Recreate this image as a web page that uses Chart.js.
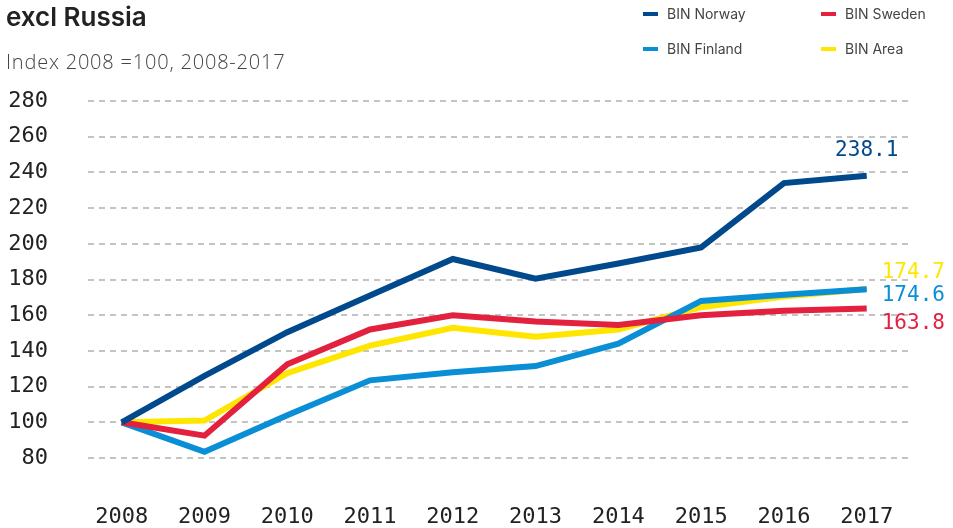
<!DOCTYPE html>
<html>
<head>
<meta charset="utf-8">
<script src="https://cdn.jsdelivr.net/npm/chart.js@4.4.0/dist/chart.umd.min.js"></script>
<style>
  html, body { margin: 0; padding: 0; background: #fff; }
  #wrap { position: relative; width: 953px; height: 528px; overflow: hidden; }
  #chart { position: absolute; left: 0; top: 0; }
  .title { position: absolute; left: 6px; top: 1px; font: 600 26px Inter, sans-serif; color: #222; }
  .sub { position: absolute; left: 6px; top: 48px; font: 300 20px "Open Sans", sans-serif; letter-spacing: 0.8px; color: #444; }
  .legend { position: absolute; font: 14px Inter, sans-serif; color: #444; white-space: nowrap; }
  .legend i { display: inline-block; width: 15px; height: 4px; vertical-align: middle; margin-right: 9px; position: relative; top: -1px; }
</style>
</head>
<body>
<div id="wrap">
  <canvas id="chart" width="953" height="528"></canvas>
  <div class="title">excl Russia</div>
  <div class="sub">Index 2008 =100, 2008-2017</div>
  <div id="legend"></div>
</div>
<script>
// Données
var years = [2008, 2009, 2010, 2011, 2012, 2013, 2014, 2015, 2016, 2017];
var norway = [100, 126, 150.5, 171, 191.5, 180.5, 189, 198, 234, 238.1];
var sweden = [100, 92.5, 132.5, 152, 160, 156.5, 154.5, 160, 162.5, 163.8];
var finland = [100, 83.5, 104, 123.5, 128, 131.5, 144, 168, 171.5, 174.6];
var area = [100, 101, 127.5, 143, 153, 148, 152, 164.5, 170.5, 174.7];
var seriesLabels = ['BIN Norway', 'BIN Sweden', 'BIN Finland', 'BIN Area'];
var seriesColors = ['#00498c', '#e3213f', '#0a8ed6', '#ffe600'];
var yTicks = [80, 100, 120, 140, 160, 180, 200, 220, 240, 260, 280];

// Décalage des étiquettes de fin de courbe (style)
var endLabelStyle = [
  { dx: 0, dy: -25, align: 'center' },
  { dx: 15, dy: 15, align: 'left' },
  { dx: 15, dy: 6, align: 'left' },
  { dx: 15, dy: -16, align: 'left' }
];

function toPoints(values) {
  return values.map(function(v, i) {
    return { x: years[i], y: v };
  });
}

var allSeries = [norway, sweden, finland, area];
var datasets = allSeries.map(function(values, i) {
  return {
    label: seriesLabels[i],
    data: toPoints(values),
    borderColor: seriesColors[i],
    backgroundColor: seriesColors[i],
    borderWidth: 6,
    borderJoinStyle: 'miter',
    borderCapStyle: 'butt',
    pointRadius: 0,
    tension: 0,
    fill: false
  };
});

// Légende en HTML, deux colonnes
var legendPos = [[643, 5], [821, 5], [643, 40], [821, 40]];
var legendHtml = '';
seriesLabels.forEach(function(lab, i) {
  legendHtml += '<div class="legend" style="left:' + legendPos[i][0] + 'px;top:' + legendPos[i][1] + 'px">' +
    '<i style="background:' + seriesColors[i] + '"></i>' + lab + '</div>';
});
document.getElementById('legend').innerHTML = legendHtml;

// Étiquettes de la dernière valeur
var endLabels = {
  id: 'endLabels',
  afterDatasetsDraw: function(chart) {
    var ctx = chart.ctx;
    ctx.save();
    ctx.font = '21px "DejaVu Sans Mono", monospace';
    ctx.textBaseline = 'middle';
    chart.data.datasets.forEach(function(ds, i) {
      var meta = chart.getDatasetMeta(i);
      var pt = meta.data[meta.data.length - 1];
      var st = endLabelStyle[i];
      var val = allSeries[i][allSeries[i].length - 1];
      ctx.fillStyle = seriesColors[i];
      ctx.textAlign = st.align;
      ctx.fillText(val.toFixed(1), pt.x + st.dx, pt.y + st.dy);
    });
    ctx.restore();
  }
};

var tickFont = { family: '"DejaVu Sans Mono", monospace', size: 22 };

new Chart(document.getElementById('chart').getContext('2d'), {
  type: 'line',
  data: { datasets: datasets },
  options: {
    responsive: false,
    animation: false,
    layout: { padding: { top: 101, right: 41, left: 0, bottom: 0 } },
    plugins: {
      legend: { display: false },
      tooltip: { enabled: false }
    },
    scales: {
      x: {
        type: 'linear',
        min: 2007.593,
        max: 2017.547,
        border: { display: false },
        grid: { display: false },
        ticks: {
          stepSize: 1,
          includeBounds: false,
          padding: 38,
          color: '#222',
          font: tickFont,
          maxRotation: 0,
          callback: function(v) { return years.indexOf(v) >= 0 ? String(v) : ''; }
        },
        afterFit: function(scale) { scale.height = 70; }
      },
      y: {
        min: yTicks[0],
        max: yTicks[yTicks.length - 1],
        border: { display: false, dash: [6, 5] },
        grid: {
          color: '#c4c4c4',
          lineWidth: 2,
          drawTicks: false
        },
        ticks: {
          stepSize: 20,
          padding: 40,
          color: '#222',
          font: tickFont
        },
        afterBuildTicks: function(scale) {
          scale.ticks = yTicks.map(function(v) { return { value: v }; });
        },
        afterFit: function(scale) { scale.width = 88; }
      }
    }
  },
  plugins: [endLabels]
});
</script>
</body>
</html>
